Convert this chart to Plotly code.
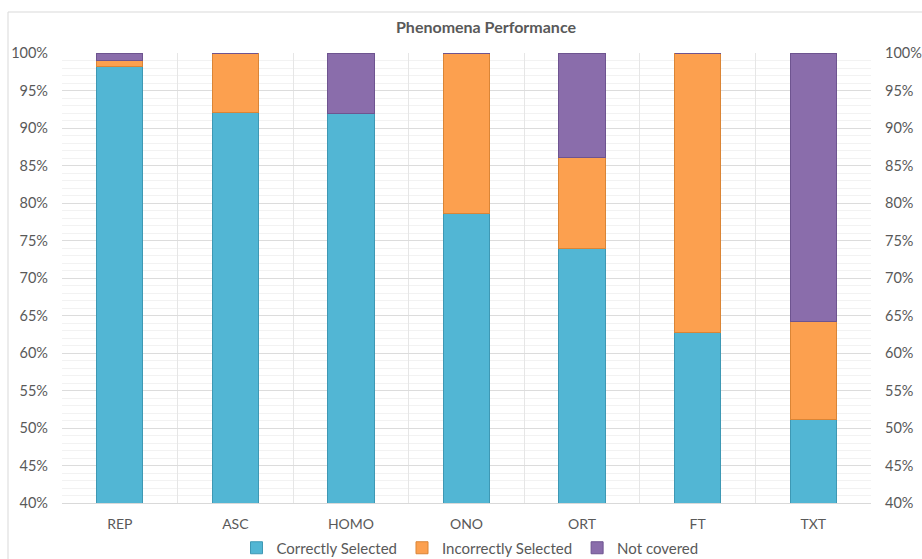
import plotly.graph_objects as go

categories = ["REP", "ASC", "HOMO", "ONO", "ORT", "FT", "TXT"]
correctly_selected = [98.2, 92.1, 91.9, 78.6, 74.0, 62.7, 51.1]
incorrectly_selected = [0.8, 7.9, 0.0, 21.4, 12.1, 37.3, 13.1]
not_covered = [1.0, 0.0, 8.1, 0.0, 13.9, 0.0, 35.8]

series = [
    ("Correctly Selected", correctly_selected, "#52B6D4", "#3E98B4"),
    ("Incorrectly Selected", incorrectly_selected, "#FCA04F", "#DA8536"),
    ("Not covered", not_covered, "#8A6DAB", "#6E5490"),
]

tick_vals = list(range(40, 101, 5))
tick_text = [f"{v}%" for v in tick_vals]

font_family = "Lato, 'Liberation Sans', sans-serif"
text_color = "#595959"

fig = go.Figure()
for name, values, color, edge in series:
    fig.add_trace(go.Bar(
        x=categories, y=values, name=name,
        marker=dict(color=color, line=dict(color=edge, width=1)),
        width=0.4,
    ))

# mirror axis on the right side
fig.add_trace(go.Scatter(
    x=categories, y=[None] * len(categories), yaxis="y2",
    showlegend=False, hoverinfo="skip", mode="lines",
))

fig.update_layout(
    width=922, height=559,
    barmode="stack",
    bargap=0.6,
    paper_bgcolor="white", plot_bgcolor="white",
    margin=dict(l=62, r=51, t=53, b=56, autoexpand=False),
    font=dict(family=font_family, size=14, color=text_color),
    title=dict(
        text="<b>Phenomena Performance</b>",
        xref="container", x=486 / 922, xanchor="center",
        yref="container", y=1 - 27 / 559, yanchor="middle",
        font=dict(size=16, color=text_color, family=font_family),
    ),
    xaxis=dict(
        type="category", tickson="boundaries", ticks="",
        showgrid=True, gridcolor="#E6E6E6", gridwidth=1,
        showline=True, linecolor="#D9D9D9", linewidth=1,
        tickfont=dict(size=14, color=text_color),
        ticklabelstandoff=8,
        range=[-0.5, 6.5],
    ),
    yaxis=dict(
        range=[40, 100], tickvals=tick_vals, ticktext=tick_text,
        showgrid=True, gridcolor="#DCDCDC", gridwidth=1,
        minor=dict(dtick=1, showgrid=True, gridcolor="#F2F2F2", gridwidth=1),
        zeroline=False, ticks="",
        tickfont=dict(size=14.5, color=text_color),
        ticklabelstandoff=13,
    ),
    yaxis2=dict(
        range=[40, 100], tickvals=tick_vals, ticktext=tick_text,
        overlaying="y", side="right", showgrid=False, zeroline=False,
        ticks="", tickfont=dict(size=14.5, color=text_color),
        ticklabelstandoff=13,
    ),
    legend=dict(
        orientation="h", xref="container", x=470 / 922, xanchor="center",
        yref="container", y=1 - 548 / 559, yanchor="middle",
        font=dict(size=15, color=text_color),
        itemwidth=30, traceorder="normal",
    ),
    shapes=[dict(
        type="rect", xref="paper", yref="paper",
        x0=(8 - 62) / 809, x1=1.3, y0=-0.3, y1=(503 - 12) / 450,
        line=dict(color="#D9D9D9", width=1), fillcolor="rgba(0,0,0,0)",
        layer="below",
    )],
)

fig.write_html("out.html")
